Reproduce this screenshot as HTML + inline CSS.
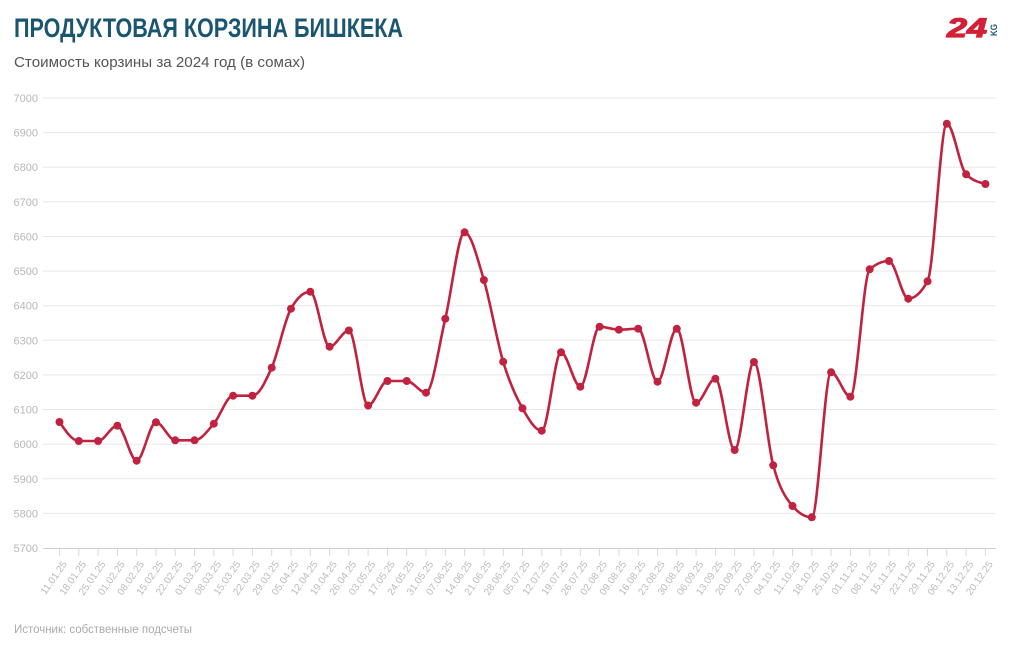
<!DOCTYPE html>
<html><head><meta charset="utf-8">
<style>
html,body{margin:0;padding:0;background:#fff;}
svg{display:block;font-family:"Liberation Sans","Noto Sans CJK SC",sans-serif;}
</style></head>
<body>
<svg id="c" width="1020" height="650" viewBox="0 0 1020 650" xmlns="http://www.w3.org/2000/svg">
<rect width="1020" height="650" fill="#fff"/>
<text x="14" y="37" font-size="27" font-weight="bold" fill="#1b5671" textLength="389" lengthAdjust="spacingAndGlyphs">ПРОДУКТОВАЯ КОРЗИНА БИШКЕКА</text>
<text x="14" y="67" font-size="14.5" fill="#555" textLength="291" lengthAdjust="spacingAndGlyphs">Стоимость корзины за 2024 год (в сомах)</text>
<text x="947" y="37" font-size="27" font-weight="bold" font-style="italic" fill="#d42035" stroke="#d42035" stroke-width="1.2" textLength="40" lengthAdjust="spacingAndGlyphs">24</text>
<text transform="translate(997,36) rotate(-90)" font-size="9" font-weight="bold" fill="#1b5671" textLength="12" lengthAdjust="spacingAndGlyphs">KG</text>
<g id="grid" stroke="#e8e8e8" stroke-width="1"></g>
<g id="ylab" font-size="11" fill="#b8b8b8" text-anchor="end"></g>
<line x1="43" y1="548.5" x2="996" y2="548.5" stroke="#d0d0d0" stroke-width="1"/>
<g id="ticks" stroke="#d8d8d8" stroke-width="1"></g>
<g id="xlab" font-size="10" fill="#bbbbbb" text-anchor="end"></g>
<path id="line" fill="none" stroke="#c0223f" stroke-width="2.6" stroke-linejoin="round" d=""/>
<g id="dots" fill="#c0223f"></g>
<text x="14" y="633" font-size="12" fill="#aaa" textLength="178" lengthAdjust="spacingAndGlyphs">Источник: собственные подсчеты</text>
</svg>
<script>
(function(){
var NS="http://www.w3.org/2000/svg";
function el(tag,attrs,parent,txt){var e=document.createElementNS(NS,tag);for(var k in attrs)e.setAttribute(k,attrs[k]);if(txt!==undefined)e.textContent=txt;parent.appendChild(e);return e;}
var grid=document.getElementById('grid'),ylab=document.getElementById('ylab');
for(var v=5700;v<=7000;v+=100){
  var y=548-(v-5700)*450/1300;
  if(v>5700) el('line',{x1:43,x2:996,y1:y.toFixed(1),y2:y.toFixed(1)},grid);
  el('text',{x:38,y:(y+4).toFixed(1)},ylab,String(v));
}
var labels=["11.01.25","18.01.25","25.01.25","01.02.25","08.02.25","15.02.25","22.02.25","01.03.25","08.03.25","15.03.25","22.03.25","29.03.25","05.04.25","12.04.25","19.04.25","26.04.25","03.05.25","17.05.25","24.05.25","31.05.25","07.06.25","14.06.25","21.06.25","28.06.25","05.07.25","12.07.25","19.07.25","26.07.25","02.08.25","09.08.25","16.08.25","23.08.25","30.08.25","06.09.25","13.09.25","20.09.25","27.09.25","04.10.25","11.10.25","18.10.25","25.10.25","01.11.25","08.11.25","15.11.25","22.11.25","29.11.25","06.12.25","13.12.25","20.12.25"];
var ys=[422,441,441,425.7,460.7,422.3,440.3,440.3,423.7,395.7,395.7,367.7,308.7,291.7,346.7,330.5,405.5,381,381,392.7,318.7,232.3,280,361.7,408.3,430.7,352.3,386.7,326.7,329.7,328.7,381.7,328.8,402.7,378.7,450,362,465.3,506,517.3,372.3,396.7,269.3,261,298.7,281.3,123.7,174.3,184];
var n=ys.length,xs=[];
for(var i=0;i<n;i++)xs.push(59.5+19.29*i);
var ticks=document.getElementById('ticks'),xlab=document.getElementById('xlab'),dots=document.getElementById('dots');
for(var i=0;i<n;i++){
  el('line',{x1:xs[i].toFixed(1),x2:xs[i].toFixed(1),y1:549,y2:556},ticks);
  var tx=xs[i]+5,ty=562;
  el('text',{x:tx.toFixed(1),y:ty,dy:"0.35em",transform:"rotate(-55 "+tx.toFixed(1)+" "+ty+")"},xlab,labels[i]);
  el('circle',{cx:xs[i].toFixed(2),cy:ys[i],r:4},dots);
}
function sign(x){return x<0?-1:1;}
var t=new Array(n);
for(var i=1;i<n-1;i++){
  var h0=xs[i]-xs[i-1],h1=xs[i+1]-xs[i],s0=(ys[i]-ys[i-1])/h0,s1=(ys[i+1]-ys[i])/h1,p=(s0*h1+s1*h0)/(h0+h1);
  t[i]=(sign(s0)+sign(s1))*Math.min(Math.abs(s0),Math.abs(s1),0.5*Math.abs(p))||0;
}
t[0]=(3*(ys[1]-ys[0])/(xs[1]-xs[0])-t[1])/2;
t[n-1]=(3*(ys[n-1]-ys[n-2])/(xs[n-1]-xs[n-2])-t[n-2])/2;
var d="M"+xs[0].toFixed(2)+","+ys[0];
for(var i=0;i<n-1;i++){
  var dx=(xs[i+1]-xs[i])/3;
  d+="C"+(xs[i]+dx).toFixed(2)+","+(ys[i]+dx*t[i]).toFixed(2)+" "+(xs[i+1]-dx).toFixed(2)+","+(ys[i+1]-dx*t[i+1]).toFixed(2)+" "+xs[i+1].toFixed(2)+","+ys[i+1];
}
document.getElementById('line').setAttribute('d',d);
})();
</script>
</body></html>
